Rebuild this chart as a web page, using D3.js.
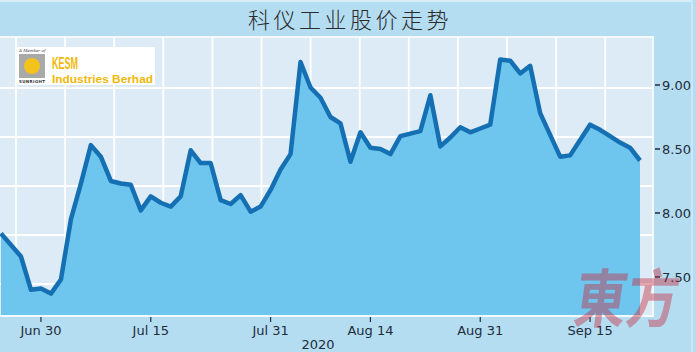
<!DOCTYPE html>
<meta charset="utf-8">
<style>
    body { margin: 0; background: #b4ddf2; }
    svg { display: block; }
    .tick-label { font-family: "DejaVu Sans", Verdana, sans-serif; font-size: 13px; fill: #1f2c3a; }
</style>
<script src="https://cdn.jsdelivr.net/npm/d3@7"></script>
<svg width="696" height="352"></svg>
<script>
    // dias de negociação (2020)
    var dias = [
        "06-24", "06-25", "06-26", "06-29", "06-30", "07-01", "07-02", "07-03", "07-06", "07-07",
        "07-08", "07-09", "07-10", "07-13", "07-14", "07-15", "07-16", "07-17", "07-20", "07-21",
        "07-22", "07-23", "07-24", "07-27", "07-28", "07-29", "07-30", "07-31", "08-03", "08-04",
        "08-05", "08-06", "08-07", "08-10", "08-11", "08-12", "08-13", "08-14", "08-17", "08-18",
        "08-19", "08-20", "08-21", "08-24", "08-25", "08-26", "08-27", "08-28", "08-31", "09-01",
        "09-02", "09-03", "09-04", "09-07", "09-08", "09-09", "09-10", "09-11", "09-14", "09-15",
        "09-16", "09-17", "09-18", "09-21", "09-22"
    ];

    // preço de fecho
    var precos = [
        7.84, 7.75, 7.66, 7.40, 7.41, 7.37, 7.48, 7.95, 8.23, 8.53,
        8.44, 8.25, 8.23, 8.22, 8.02, 8.13, 8.08, 8.05, 8.13, 8.49,
        8.39, 8.39, 8.10, 8.07, 8.14, 8.01, 8.05, 8.18, 8.34, 8.46,
        9.18, 8.98, 8.90, 8.75, 8.70, 8.40, 8.63, 8.51, 8.50, 8.46,
        8.60, 8.62, 8.64, 8.92, 8.52, 8.59, 8.67, 8.63, 8.66, 8.69,
        9.20, 9.19, 9.09, 9.15, 8.78, 8.61, 8.44, 8.45, 8.57, 8.69,
        8.65, 8.60, 8.55, 8.51, 8.41
    ];

    var ticksX = ["06-30", "07-15", "07-31", "08-14", "08-31", "09-15"];
    var rotulosX = ["Jun 30", "Jul 15", "Jul 31", "Aug 14", "Aug 31", "Sep 15"];
    var ticksY = [7.5, 8.0, 8.5, 9.0];

    var titulo = "科仪工业股价走势";

    var svg = d3.select("svg");

    var plot = { left: 0, right: 653, top: 37, bottom: 316 };

    var x = d3.scalePoint()
        .domain(dias)
        .range([1, 640]);

    var y = d3.scaleLinear()
        .domain([7.195, 9.375])
        .range([plot.bottom, plot.top]);

    // fundo
    svg.append("rect")
        .attr("width", 696).attr("height", 352)
        .attr("fill", "#b4ddf2");
    svg.append("line")
        .attr("x1", 0).attr("x2", 692).attr("y1", 1).attr("y2", 1)
        .attr("stroke", "#d8eef9").attr("stroke-width", 2);
    svg.append("line")
        .attr("x1", 692).attr("x2", 692).attr("y1", 0).attr("y2", 352)
        .attr("stroke", "#cbe8f7").attr("stroke-width", 2);

    // título
    svg.append("text")
        .attr("x", 350).attr("y", 28)
        .attr("text-anchor", "middle")
        .style("font-family", "'Noto Sans CJK SC', sans-serif")
        .style("font-weight", "300")
        .style("font-size", "22px")
        .style("letter-spacing", "3.5px")
        .style("fill", "#2b2b2b")
        .text(titulo);

    // área do gráfico
    svg.append("rect")
        .attr("x", plot.left - 2).attr("y", plot.top)
        .attr("width", plot.right - plot.left + 2).attr("height", plot.bottom - plot.top)
        .attr("fill", "#dcebf5")
        .attr("stroke", "#f4f9fc").attr("stroke-width", 2);

    var grade = svg.append("g")
        .attr("stroke", "#ffffff")
        .attr("stroke-width", 1.8);

    grade.selectAll("line.v")
        .data(d3.range(16, plot.right, 49.1))
        .enter().append("line")
        .attr("class", "v")
        .attr("x1", function (d) { return d; }).attr("x2", function (d) { return d; })
        .attr("y1", plot.top).attr("y2", plot.bottom);

    grade.selectAll("line.h")
        .data(d3.range(1, 6).map(function (k) { return 39 + 49 * k; }))
        .enter().append("line")
        .attr("class", "h")
        .attr("x1", plot.left).attr("x2", plot.right)
        .attr("y1", function (d) { return d; }).attr("y2", function (d) { return d; });

    var area = d3.area()
        .x(function (d, i) { return x(dias[i]); })
        .y0(plot.bottom)
        .y1(function (d) { return y(d); });

    var linha = d3.line()
        .x(function (d, i) { return x(dias[i]); })
        .y(function (d) { return y(d); });

    svg.append("path")
        .datum(precos)
        .attr("d", area)
        .attr("fill", "#6ec5ee");

    svg.append("path")
        .datum(precos)
        .attr("d", linha)
        .attr("fill", "none")
        .attr("stroke", "#1470b3")
        .attr("stroke-width", 4.5)
        .attr("stroke-linejoin", "round");

    svg.append("line")
        .attr("x1", plot.left).attr("x2", plot.right)
        .attr("y1", plot.bottom).attr("y2", plot.bottom)
        .attr("stroke", "#f4f9fc").attr("stroke-width", 2);

    // eixo y (à direita)
    var eixoY = svg.append("g")
        .selectAll("g")
        .data(ticksY)
        .enter().append("g")
        .attr("transform", function (d) { return "translate(0," + y(d) + ")"; });

    eixoY.append("line")
        .attr("x1", 655).attr("x2", 660)
        .attr("stroke", "#1f2c3a").attr("stroke-width", 1.5);

    eixoY.append("text")
        .attr("class", "tick-label")
        .attr("x", 662).attr("dy", "0.35em")
        .text(function (d) { return d3.format(".2f")(d); });

    // eixo x
    var eixoX = svg.append("g")
        .selectAll("g")
        .data(ticksX)
        .enter().append("g")
        .attr("transform", function (d) { return "translate(" + x(d) + ",0)"; });

    eixoX.append("line")
        .attr("y1", plot.bottom + 1).attr("y2", plot.bottom + 6)
        .attr("stroke", "#1f2c3a").attr("stroke-width", 1.2);

    eixoX.append("text")
        .attr("class", "tick-label")
        .attr("y", 335)
        .attr("text-anchor", "middle")
        .text(function (d, i) { return rotulosX[i]; });

    svg.append("text")
        .attr("class", "tick-label")
        .attr("x", 318).attr("y", 349)
        .attr("text-anchor", "middle")
        .text("2020");

    // logótipo
    var logo = svg.append("g");
    logo.append("rect")
        .attr("x", 17).attr("y", 47).attr("width", 138).attr("height", 38)
        .attr("fill", "#ffffff");
    logo.append("rect")
        .attr("x", 19).attr("y", 54).attr("width", 26).attr("height", 24)
        .attr("fill", "#a9a9a9");
    logo.append("circle")
        .attr("cx", 32).attr("cy", 66).attr("r", 8)
        .attr("fill", "#f3c21b");
    logo.append("text")
        .attr("x", 19).attr("y", 52)
        .style("font-family", "'DejaVu Serif', serif").style("font-style", "italic")
        .style("font-size", "4px").style("fill", "#333")
        .text("A Member of");
    logo.append("text")
        .attr("x", 19).attr("y", 83)
        .style("font-family", "'DejaVu Sans', sans-serif").style("font-weight", "bold")
        .style("font-size", "4px").style("fill", "#333")
        .attr("textLength", 26)
        .text("SUNRIGHT");
    logo.append("text")
        .attr("x", 52).attr("y", 69)
        .style("font-family", "'Liberation Sans', Arial, sans-serif").style("font-weight", "bold")
        .style("font-size", "17px").style("fill", "#f1b80a")
        .attr("textLength", 26).attr("lengthAdjust", "spacingAndGlyphs")
        .text("KESM");
    logo.append("text")
        .attr("x", 52).attr("y", 82.5)
        .style("font-family", "'Liberation Sans', Arial, sans-serif").style("font-weight", "bold")
        .style("font-size", "10.5px").style("fill", "#f1b80a")
        .attr("textLength", 101).attr("lengthAdjust", "spacingAndGlyphs")
        .text("Industries Berhad");

    // marca d'água
    svg.append("text")
        .attr("transform", "translate(572,322) skewX(-8) scale(1,1.22)")
        .style("font-family", "'Noto Sans CJK TC', sans-serif").style("font-weight", "bold")
        .style("font-size", "52px").style("fill", "#c8283c").style("opacity", 0.42)
        .attr("textLength", 104).attr("lengthAdjust", "spacingAndGlyphs")
        .text("東方");
</script>
